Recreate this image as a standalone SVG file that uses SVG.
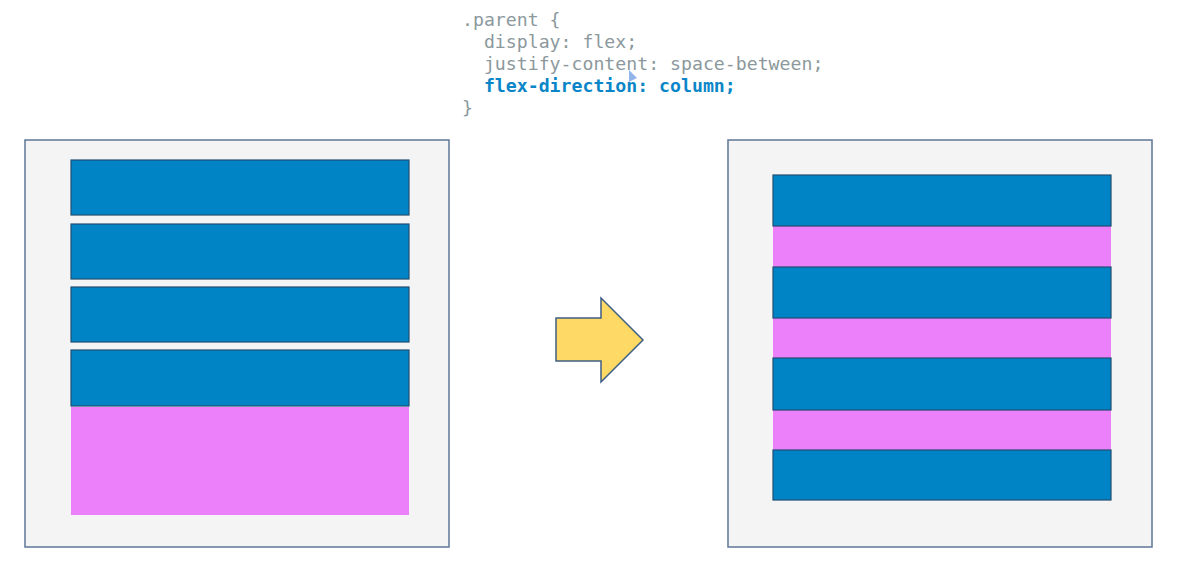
<svg xmlns="http://www.w3.org/2000/svg" width="1182" height="586" viewBox="0 0 1182 586">
<style>
.code{font-family:"DejaVu Sans Mono","Liberation Mono",monospace;font-size:18.2px;fill:#8b989c}
.kw{fill:#0a86c8;font-weight:bold}
.cont{fill:#f4f4f4;stroke:#5d7797;stroke-width:1.5}
.item{fill:#0084c6;stroke:#1f4e74;stroke-width:1.2}
.gap{fill:#ec7ffa}
</style>
<rect width="1182" height="586" fill="#ffffff"/>
<g id="code">
<text class="code" x="462" y="26" xml:space="preserve">.parent {</text>
<text class="code" x="462" y="48" xml:space="preserve">  display: flex;</text>
<text class="code" x="462" y="70" xml:space="preserve">  justify-content: space-between;</text>
<text class="code kw" x="462" y="92" xml:space="preserve">  flex-direction: column;</text>
<text class="code" x="462" y="114" xml:space="preserve">}</text>
<polygon points="629,70 629,82 637,78" fill="#7fa8e8" opacity="0.85"/>
</g>
<g id="left-container">
<rect class="cont" x="25" y="140" width="424" height="407"/>
<rect class="gap" x="71" y="407" width="338" height="108"/>
<rect class="item" x="71" y="160" width="338" height="55"/>
<rect class="item" x="71" y="224" width="338" height="55"/>
<rect class="item" x="71" y="287" width="338" height="55"/>
<rect class="item" x="71" y="350" width="338" height="56"/>
</g>
<g id="arrow">
<polygon points="556,318 601,318 601,298 643,340 601,382 601,361 556,361" fill="#ffd966" stroke="#3f5f84" stroke-width="1.5" stroke-linejoin="miter"/>
</g>
<g id="right-container">
<rect class="cont" x="728" y="140" width="424" height="407"/>
<rect class="gap" x="773" y="226" width="338" height="41"/>
<rect class="gap" x="773" y="318" width="338" height="40"/>
<rect class="gap" x="773" y="410" width="338" height="40"/>
<rect class="item" x="773" y="175" width="338" height="51"/>
<rect class="item" x="773" y="267" width="338" height="51"/>
<rect class="item" x="773" y="358" width="338" height="52"/>
<rect class="item" x="773" y="450" width="338" height="50"/>
</g>
<g id="connectors"></g>
</svg>
